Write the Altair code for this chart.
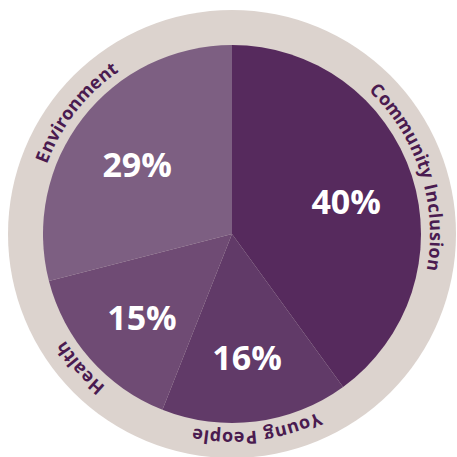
import math
import altair as alt
import pandas as pd

# ---- data ----
categories = ["Community Inclusion", "Young People", "Health", "Environment"]
values = [40, 16, 15, 29]

# ---- styles ----
slice_colors = ["#562A5D", "#613A68", "#6F4B74", "#7D5F82"]
ring_color = "#DCD3CE"
label_color = "#4A1B50"
FONT = "Open Sans"
LABEL_SIZE = 18
SPACING = 0.9
TEXT_R = 198
MID_R = 205

# approximate glyph advances (units per 2048 em)
ADV = {" ": 532, "C": 1292, "o": 1139, "m": 1753, "u": 1257, "n": 1257, "i": 518,
       "t": 705, "y": 1051, "I": 598, "c": 975, "l": 518, "s": 977, "E": 1141,
       "v": 1049, "r": 813, "e": 1149, "H": 1511, "a": 1139, "h": 1257,
       "Y": 1120, "g": 1128, "P": 1237, "p": 1255}

df = pd.DataFrame({"category": categories, "value": values,
                   "idx": list(range(len(categories)))})

# curved labels: one row per character, placed around each slice's mid-angle
total = sum(values)
rows = []
cum = 0
for cat, v in zip(categories, values):
    mid = (cum + v / 2) / total * 360
    cum += v
    widths = [ADV.get(ch, 1100) / 2048 * LABEL_SIZE * 1.08 for ch in cat]
    tot = sum(widths) + SPACING * (len(cat) - 1)
    pos = -tot / 2
    for ch, w in zip(cat, widths):
        c = pos + w / 2
        ang = (mid + math.degrees(c / MID_R)) % 360
        if ch != " ":
            rows.append({"ch": ch, "ang": ang})
        pos += w + SPACING
chars = pd.DataFrame(rows)

base = alt.Chart(df)

ring = base.mark_arc(outerRadius=224, color=ring_color).encode(
    theta=alt.Theta("sum(value):Q")
)

pie = base.mark_arc(outerRadius=189).encode(
    theta=alt.Theta("value:Q", stack=True),
    order=alt.Order("idx:Q"),
    color=alt.Color("category:N", scale=alt.Scale(domain=categories, range=slice_colors),
                    legend=None),
)

pct = base.transform_calculate(label="datum.value + '%'").mark_text(
    radius=120, dy=7, font=FONT, fontSize=34, fontWeight="bold", color="white",
    align="center", baseline="middle"
).encode(
    theta=alt.Theta("value:Q", stack=True),
    order=alt.Order("idx:Q"),
    text="label:N",
)

curved = alt.Chart(chars).mark_text(
    radius=TEXT_R, font=FONT, fontSize=LABEL_SIZE, fontWeight="bold", color=label_color,
    align="center", baseline="alphabetic"
).encode(
    theta=alt.Theta("ang:Q", stack=False,
                    scale=alt.Scale(domain=[0, 360], range=[0, 2 * math.pi])),
    angle=alt.Angle("ang:Q", scale=alt.Scale(domain=[0, 360], range=[0, 360])),
    text="ch:N",
)

chart = alt.layer(ring, pie, pct, curved).resolve_scale(
    theta="independent"
).properties(
    width=450, height=446,
    padding={"left": 7, "top": 11, "right": 0, "bottom": 0},
    autosize=alt.AutoSizeParams(type="none"),
    background="white",
).configure_view(strokeWidth=0)

chart.save("out.html", embed_options={"renderer": "svg", "actions": False})
